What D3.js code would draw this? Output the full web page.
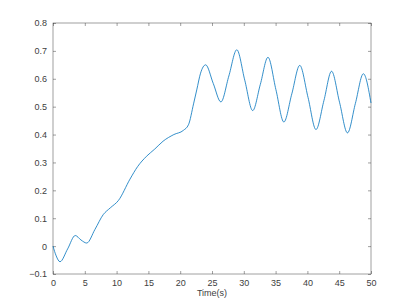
<!DOCTYPE html>
<html>
<head>
<meta charset="utf-8">
<script src="https://cdn.jsdelivr.net/npm/d3@7"></script>
<style>
  body { margin: 0; background: #fff; }
  svg { display: block; }
  .tick text { font-family: "Liberation Sans", Arial, sans-serif; font-size: 9px; fill: #404040; }
</style>
</head>
<body>
<script>
var width = 410, height = 308;
var margin = {top: 23, right: 39, bottom: 34, left: 53};

// time samples (s) and signal values
var times = [0, 0.5, 1.1, 2.3, 3.5, 4.4, 5.3, 6.6, 7.9, 9.0, 10.3, 12.1, 13.3, 14.7, 16, 17.3, 19, 20.5, 21.3,
    22.1, 22.6, 23.2, 24.0, 25.2, 26.4, 27.65, 28.9, 30.15, 31.4, 32.6, 33.8, 35.05, 36.3, 37.55, 38.8,
    40.1, 41.35, 42.6, 43.8, 45.05, 46.3, 47.55, 48.8, 50];
var values = [0, -0.035, -0.056, -0.01, 0.038, 0.022, 0.011, 0.06, 0.113, 0.137, 0.164, 0.24, 0.285, 0.322, 0.348, 0.376, 0.4, 0.415, 0.435,
    0.51, 0.56, 0.62, 0.65, 0.583, 0.517, 0.61, 0.704, 0.595, 0.486, 0.58, 0.677, 0.561, 0.445, 0.546, 0.648,
    0.533, 0.418, 0.522, 0.627, 0.516, 0.406, 0.512, 0.618, 0.513];

var xTicks = [0, 5, 10, 15, 20, 25, 30, 35, 40, 45, 50];
var yTicks = [-0.1, 0, 0.1, 0.2, 0.3, 0.4, 0.5, 0.6, 0.7, 0.8];
var xLabel = "Time(s)";

var data = times.map(function (t, i) { return {t: t, v: values[i]}; });

var svg = d3.select("body").append("svg")
    .attr("width", width)
    .attr("height", height);

var x = d3.scaleLinear().domain([0, 50]).range([margin.left, width - margin.right]);
var y = d3.scaleLinear().domain([-0.1, 0.8]).range([height - margin.bottom, margin.top]);

var axisColor = "#404040";

function styleAxis(g) {
    g.select(".domain").remove();
    g.selectAll(".tick line").attr("stroke", axisColor).attr("stroke-width", 0.5);
}

// bottom and left axes, ticks pointing inward
svg.append("g")
    .attr("transform", "translate(0," + y.range()[0] + ")")
    .call(d3.axisBottom(x).tickValues(xTicks).tickSize(-3).tickPadding(6).tickFormat(d3.format("d")))
    .call(styleAxis);

svg.append("g")
    .attr("transform", "translate(" + x.range()[0] + ",0)")
    .call(d3.axisLeft(y).tickValues(yTicks).tickSize(-3).tickPadding(6).tickFormat(function (d) {
        return d === 0 ? "0" : d3.format(".1f")(d);
    }))
    .call(styleAxis);

// top and right: ticks only
svg.append("g")
    .attr("transform", "translate(0," + y.range()[1] + ")")
    .call(d3.axisTop(x).tickValues(xTicks).tickSize(-3).tickFormat(""))
    .call(styleAxis);

svg.append("g")
    .attr("transform", "translate(" + x.range()[1] + ",0)")
    .call(d3.axisRight(y).tickValues(yTicks).tickSize(-3).tickFormat(""))
    .call(styleAxis);

// box
svg.append("rect")
    .attr("x", x.range()[0])
    .attr("y", y.range()[1])
    .attr("width", x.range()[1] - x.range()[0])
    .attr("height", y.range()[0] - y.range()[1])
    .attr("fill", "none")
    .attr("stroke", axisColor)
    .attr("stroke-width", 0.5);

var line = d3.line()
    .x(function (d) { return x(d.t); })
    .y(function (d) { return y(d.v); })
    .curve(d3.curveMonotoneX);

svg.append("path")
    .datum(data)
    .attr("d", line)
    .attr("fill", "none")
    .attr("stroke", "#0072BD")
    .attr("stroke-width", 0.8);

svg.append("text")
    .attr("x", (x.range()[0] + x.range()[1]) / 2)
    .attr("y", 296)
    .attr("text-anchor", "middle")
    .style("font-family", "Liberation Sans, Arial, sans-serif")
    .style("font-size", "9px")
    .style("fill", axisColor)
    .text(xLabel);
</script>
</body>
</html>
